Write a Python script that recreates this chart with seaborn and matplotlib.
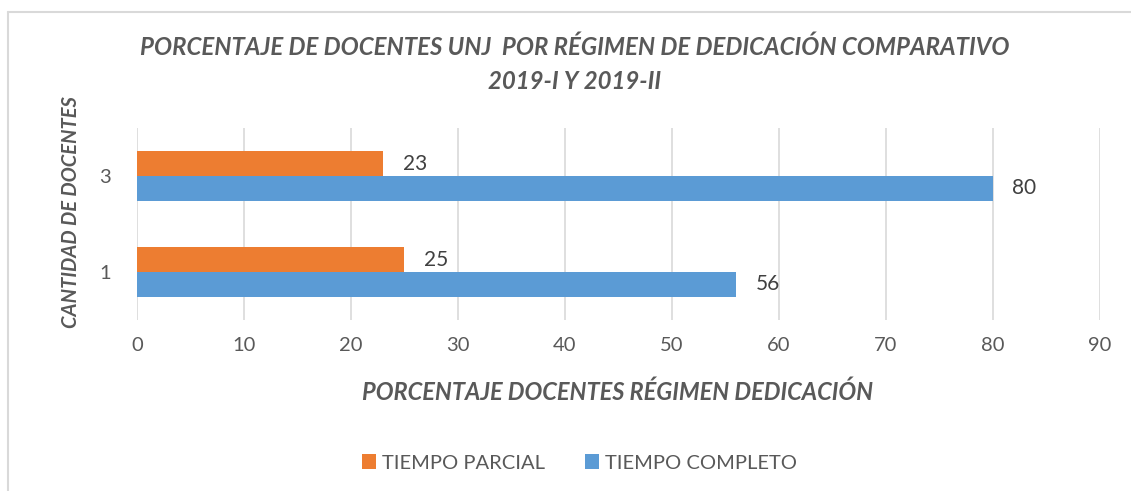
import matplotlib
matplotlib.use("Agg")
import matplotlib.pyplot as plt
import seaborn as sns
import pandas as pd
from matplotlib.lines import Line2D

categories = ["3", "1"]
series_names = ["TIEMPO PARCIAL", "TIEMPO COMPLETO"]
tiempo_parcial = [23, 25]
tiempo_completo = [80, 56]
x_ticks = [0, 10, 20, 30, 40, 50, 60, 70, 80, 90]

title = "PORCENTAJE DE DOCENTES UNJ  POR RÉGIMEN DE DEDICACIÓN COMPARATIVO\n2019-I Y 2019-II"
x_label = "PORCENTAJE DOCENTES RÉGIMEN DEDICACIÓN"
y_label = "CANTIDAD DE DOCENTES"

df = pd.DataFrame({
    "cat": categories * 2,
    "serie": [series_names[0]] * len(categories) + [series_names[1]] * len(categories),
    "valor": tiempo_parcial + tiempo_completo,
})

sns.set_theme(style="white")
plt.rcParams["font.family"] = ["Lato", "DejaVu Sans"]

fig = plt.figure(figsize=(11.31, 4.91), dpi=100)
ax = fig.add_axes([0.1211, 0.3483, 0.8515, 0.391])

palette = {series_names[0]: "#ED7D31", series_names[1]: "#5B9BD5"}
sns.barplot(data=df, y="cat", x="valor", hue="serie", order=categories,
            hue_order=series_names, palette=palette, orient="h", width=0.52,
            linewidth=0, saturation=1, ax=ax, legend=True)

for cont in ax.containers:
    ax.bar_label(cont, padding=14, fontsize=15, color="#404040")

ax.set_xlim(0, 90)
ax.set_ylim(1.5, -0.5)
ax.set_xticks(x_ticks)
ax.set_xticklabels([str(t) for t in x_ticks])
ax.grid(axis="x", color="#d9d9d9", linewidth=1.2)
ax.set_axisbelow(True)
for s in ax.spines.values():
    s.set_visible(False)
ax.tick_params(axis="both", length=0, labelsize=14.5, colors="#595959", pad=12)
ax.tick_params(axis="y", pad=19)

ax.set_xlabel(x_label, fontsize=17, fontweight="bold", fontstyle="italic",
              color="#595959")
ax.xaxis.set_label_coords(0.4992, -0.315)
ax.set_ylabel(y_label, fontsize=14.5, fontweight="bold", fontstyle="italic",
              color="#595959")
ax.yaxis.set_label_coords(-0.058, 0.5625)

fig.text(0.508, 1 - 64 / 491, title, ha="center", va="center", fontsize=17.3,
         fontweight="bold", fontstyle="italic", color="#595959", linespacing=1.6)

leg = ax.legend(loc="center", bbox_to_anchor=(0.4596, -0.745), ncol=2,
                frameon=False, fontsize=14.5, handlelength=0.7, handleheight=0.7,
                handletextpad=0.3, columnspacing=2.0)
for t in leg.get_texts():
    t.set_color("#595959")

fig.add_artist(Line2D([8 / 1131, 8 / 1131], [0, 1 - 12 / 491], color="#d9d9d9", linewidth=1.5))
fig.add_artist(Line2D([8 / 1131, 1], [1 - 12 / 491, 1 - 12 / 491], color="#d9d9d9", linewidth=1.5))

fig.savefig("out.png", dpi=100)
